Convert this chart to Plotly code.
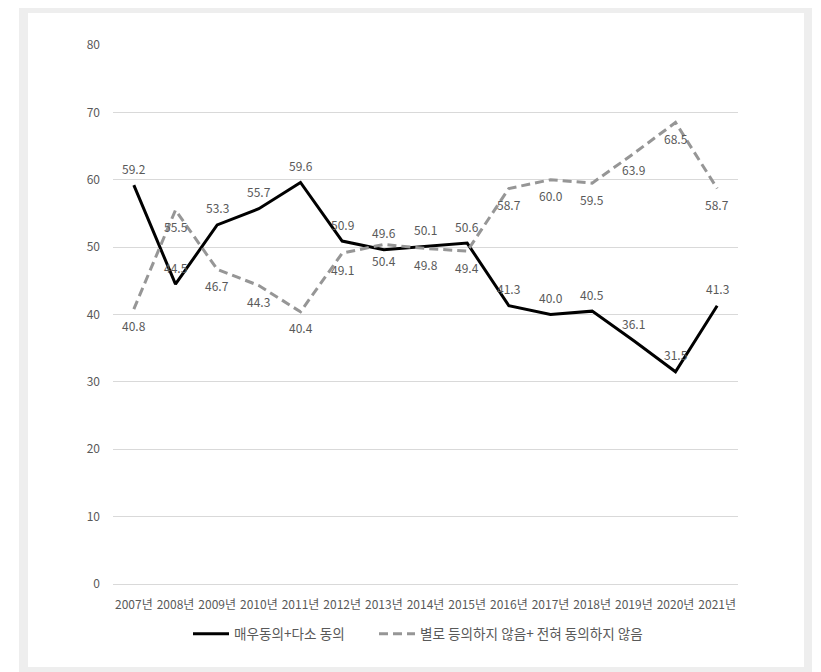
import plotly.graph_objects as go

years = ["2007년", "2008년", "2009년", "2010년", "2011년", "2012년", "2013년", "2014년",
         "2015년", "2016년", "2017년", "2018년", "2019년", "2020년", "2021년"]
agree = [59.2, 44.5, 53.3, 55.7, 59.6, 50.9, 49.6, 50.1, 50.6, 41.3, 40.0, 40.5, 36.1, 31.5, 41.3]
disagree = [40.8, 55.5, 46.7, 44.3, 40.4, 49.1, 50.4, 49.8, 49.4, 58.7, 60.0, 59.5, 63.9, 68.5, 58.7]
name_agree = "매우동의+다소 동의"
name_disagree = "별로 등의하지 않음+ 전혀 동의하지 않음"
y_ticks = [0, 10, 20, 30, 40, 50, 60, 70, 80]

FONT = "Noto Sans CJK KR, Noto Sans, sans-serif"
TXT = "#595959"

fig = go.Figure()
fig.add_trace(go.Scatter(x=years, y=agree, name=name_agree, mode="lines",
                         line=dict(color="#000000", width=3), legend="legend"))
fig.add_trace(go.Scatter(x=years, y=disagree, name=name_disagree, mode="lines",
                         line=dict(color="#969696", width=3, dash="9px,5px"),
                         legend="legend2"))

annotations = []
for x, v in zip(years, agree):
    annotations.append(dict(x=x, y=v, text=f"{v:.1f}", showarrow=False, yshift=17,
                            font=dict(size=12, color=TXT, family=FONT)))
for x, v in zip(years, disagree):
    annotations.append(dict(x=x, y=v, text=f"{v:.1f}", showarrow=False, yshift=-16,
                            font=dict(size=12, color=TXT, family=FONT)))

# figure is placed at (8, 8) in the page
W, H = 813, 664
L, R, T, B = 105, 83, 37, 88
pw, ph = W - L - R, H - T - B
def px(x): return (x - L) / pw
def py(y): return (H - B - y) / ph
shapes = [
    dict(type="rect", xref="paper", yref="paper", x0=px(11), x1=px(804), y0=py(-10), y1=py(680),
         fillcolor="#eeeeee", line=dict(width=0), layer="below"),
    dict(type="rect", xref="paper", yref="paper", x0=px(20), x1=px(796), y0=py(5), y1=py(659),
         fillcolor="#ffffff", line=dict(width=0), layer="below"),
]

leg_common = dict(orientation="h", yanchor="middle", y=py(626), xanchor="left",
                  font=dict(size=13.6, color=TXT, family=FONT), itemwidth=36,
                  bgcolor="rgba(0,0,0,0)")

fig.update_layout(
    width=W, height=H,
    margin=dict(l=L, r=R, t=T, b=B),
    paper_bgcolor="#ffffff", plot_bgcolor="rgba(0,0,0,0)",
    font=dict(family=FONT, size=12, color=TXT),
    showlegend=True,
    legend=dict(x=px(180), **leg_common),
    legend2=dict(x=px(366), **leg_common),
    annotations=annotations,
    shapes=shapes,
    xaxis=dict(type="category", range=[-0.5, len(years) - 0.5], showgrid=False,
               showline=False, zeroline=False, ticks="", ticklabelstandoff=12,
               tickfont=dict(size=12, color=TXT, family=FONT), fixedrange=True),
    yaxis=dict(range=[0, 80], tickvals=y_ticks, showgrid=True, gridcolor="#d9d9d9",
               gridwidth=1, zeroline=True, zerolinecolor="#d9d9d9", zerolinewidth=1,
               showline=False, ticks="",
               ticklabelstandoff=12, tickfont=dict(size=12, color=TXT, family=FONT),
               fixedrange=True),
)

fig.write_html("out.html")
